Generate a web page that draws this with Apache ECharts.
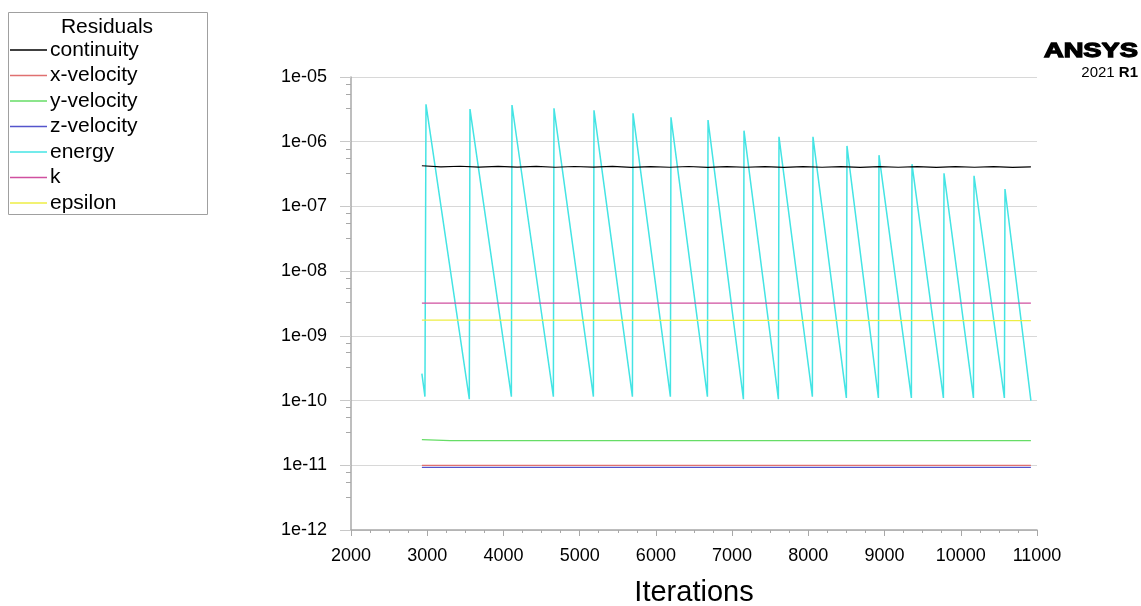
<!DOCTYPE html>
<html>
<head>
<meta charset="utf-8">
<script src="https://cdn.jsdelivr.net/npm/echarts@6/dist/echarts.min.js"></script>
<style>
  html, body { margin: 0; padding: 0; background: #fff; }
  #chart { width: 1141px; height: 606px; }
</style>
</head>
<body>
<div id="chart"></div>
<script>
const chart = echarts.init(document.getElementById("chart"));

// ==========================
// DATA
// ==========================

const SERIES_NAMES = ["continuity", "x-velocity", "y-velocity", "z-velocity", "energy", "k", "epsilon"];
const COLORS = ["#000000", "#e07070", "#66dd66", "#5555cc", "#44e4e4", "#d050a0", "#eeee44"];

const contIter = [2930, 3180, 3430, 3680, 3930, 4180, 4430, 4680, 4930, 5180, 5430,
  5680, 5930, 6180, 6430, 6680, 6930, 7180, 7430, 7680, 7930, 8180, 8430, 8680,
  8930, 9180, 9430, 9680, 9930, 10180, 10430, 10680, 10920];
const contVal = [4.25e-7, 4.08e-7, 4.18e-7, 4.04e-7, 4.16e-7, 4.05e-7, 4.15e-7, 4.03e-7,
  4.14e-7, 4.04e-7, 4.15e-7, 4.02e-7, 4.13e-7, 4.03e-7, 4.14e-7, 4.02e-7, 4.13e-7,
  4.03e-7, 4.12e-7, 4.02e-7, 4.13e-7, 4.03e-7, 4.12e-7, 4.02e-7, 4.13e-7, 4.03e-7,
  4.12e-7, 4.02e-7, 4.12e-7, 4.03e-7, 4.12e-7, 4.02e-7, 4.08e-7];

const flatIter = [2930, 3300, 10920];
const xVelVal = [1.0e-11, 1.0e-11, 1.0e-11];
const yVelVal = [2.5e-11, 2.4e-11, 2.4e-11];
const zVelVal = [9.3e-12, 9.3e-12, 9.3e-12];
const kVal = [3.2e-9, 3.2e-9, 3.2e-9];
const epsVal = [1.75e-9, 1.75e-9, 1.72e-9];

const energyIter = [2930, 2970, 2984, 3552, 3561, 4104, 4112, 4655, 4663, 5180, 5188,
  5692, 5700, 6190, 6198, 6676, 6684, 7148, 7156, 7607, 7615, 8053, 8061, 8499, 8507,
  8919, 8927, 9352, 9360, 9772, 9780, 10166, 10174, 10572, 10580, 10920];
const energyVal = [2.6e-10, 1.15e-10, 3.79e-6, 1.05e-10, 3.2e-6, 1.15e-10, 3.69e-6,
  1.15e-10, 3.28e-6, 1.15e-10, 3.06e-6, 1.15e-10, 2.75e-6, 1.15e-10, 2.38e-6,
  1.15e-10, 2.16e-6, 1.05e-10, 1.48e-6, 1.05e-10, 1.19e-6, 1.15e-10, 1.19e-6,
  1.1e-10, 8.6e-7, 1.1e-10, 6.2e-7, 1.1e-10, 4.5e-7, 1.1e-10, 3.25e-7, 1.1e-10,
  2.98e-7, 1.1e-10, 1.86e-7, 1.0e-10];

const zip = (xs, ys) => xs.map((x, i) => [x, ys[i]]);

const seriesData = [
  zip(contIter, contVal),
  zip(flatIter, xVelVal),
  zip(flatIter, yVelVal),
  zip(flatIter, zVelVal),
  zip(energyIter, energyVal),
  zip(flatIter, kVal),
  zip(flatIter, epsVal)
];

const FONT = "Liberation Sans, Arial, sans-serif";

function expLabel(v) {
  const e = Math.round(Math.log10(v));
  return "1e" + (e < 0 ? "-" : "+") + String(Math.abs(e)).padStart(2, "0");
}

// ==========================
// OPTION
// ==========================

chart.setOption({
  animation: false,
  textStyle: { fontFamily: FONT },
  grid: { left: 351, right: 104, top: 77, bottom: 76, outerBoundsMode: "none" },

  legend: {
    orient: "vertical",
    left: 10,
    top: 39.5,
    padding: 0,
    icon: "rect",
    itemWidth: 37,
    itemHeight: 1.5,
    itemGap: 4.5,
    textStyle: { fontSize: 21, color: "#000", lineHeight: 21, padding: [0, 0, 0, -2] },
    data: SERIES_NAMES
  },

  graphic: [
    {
      type: "rect",
      shape: { x: 8.5, y: 12.5, width: 199, height: 202 },
      style: { fill: "none", stroke: "#a0a0a0", lineWidth: 1 }
    },
    {
      type: "text",
      style: { x: 107, y: 27, text: "Residuals", font: "21px " + FONT, fill: "#000",
        textAlign: "center", textVerticalAlign: "middle" }
    },
    {
      type: "text",
      x: 1138, y: 51, scaleX: 1.3,
      style: { x: 0, y: 0, text: "ANSYS", font: "bold 21px " + FONT, fill: "#000",
        stroke: "#000", lineWidth: 1.3,
        textAlign: "right", textVerticalAlign: "middle" }
    },
    {
      type: "text",
      style: {
        x: 1138, y: 73, textAlign: "right", textVerticalAlign: "middle",
        text: "{a|2021 }{b|R1}",
        rich: {
          a: { fontSize: 15, fontFamily: FONT, color: "#000" },
          b: { fontSize: 15, fontFamily: FONT, fontWeight: "bold", color: "#000" }
        }
      }
    }
  ],

  xAxis: {
    type: "value",
    min: 2000,
    max: 11000,
    interval: 1000,
    name: "Iterations",
    nameLocation: "middle",
    nameGap: 48,
    nameTextStyle: { fontSize: 29, color: "#000" },
    axisLine: { lineStyle: { color: "#a8a8a8", width: 1.5 } },
    axisTick: { length: 6, lineStyle: { color: "#a8a8a8" } },
    minorTick: { show: true, splitNumber: 4, length: 3, lineStyle: { color: "#a8a8a8" } },
    axisLabel: { fontSize: 18, color: "#000", margin: 17, formatter: v => String(v) },
    splitLine: { show: false }
  },

  yAxis: {
    type: "log",
    logBase: 10,
    min: 1e-12,
    max: 1e-5,
    axisLine: { show: true, lineStyle: { color: "#a8a8a8", width: 1.5 } },
    axisTick: { show: true, length: 11, lineStyle: { color: "#c8c8c8" } },
    minorTick: { show: true, splitNumber: 4, length: 5, lineStyle: { color: "#a8a8a8" } },
    axisLabel: { fontSize: 18, color: "#000", margin: 24, formatter: expLabel },
    splitLine: { show: true, lineStyle: { color: "#d8d8d8", width: 1 } }
  },

  series: SERIES_NAMES.map((name, i) => ({
    name,
    type: "line",
    symbol: "none",
    data: seriesData[i],
    lineStyle: { color: COLORS[i], width: i === 4 ? 1.5 : 1.2 },
    itemStyle: { color: COLORS[i] },
    z: i === 0 ? 3 : 2
  }))
});
</script>
</body>
</html>
